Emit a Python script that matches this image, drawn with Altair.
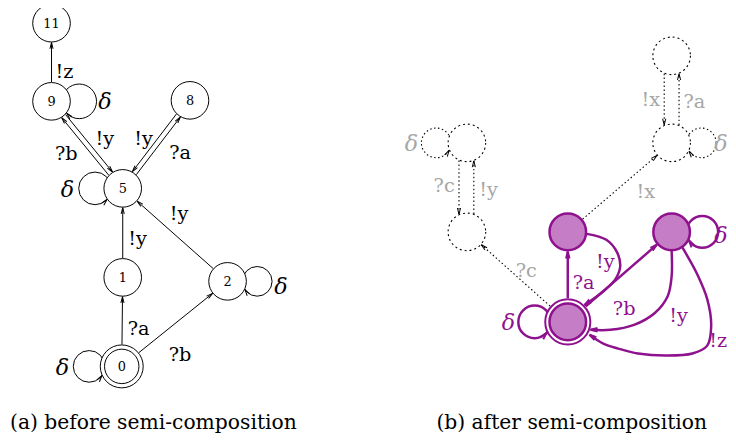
import math
import pandas as pd
import altair as alt

# ---------------- data (pixel space of the 736x443 picture) ----------------
node_id = ["11", "9", "8", "5", "1", "2", "0", "rt", "rm", "lt", "lb", "A", "B", "C"]
node_x = [52, 52, 192, 124, 124, 230, 123, 679, 679, 472, 472, 574, 679, 574]
node_y = [21, 100, 99, 188, 278, 282, 368, 54, 142, 142, 232, 232, 232, 323]
node_text = ["11", "9", "8", "5", "1", "2", "0", "", "", "", "", "", "", ""]
node_style = ["plain"] * 7 + ["dotted"] * 4 + ["purple"] * 3
node_r = [19, 19, 19, 19, 19, 19, 17.4, 19, 19, 19, 19, 18.5, 18.5, 18.5]
accept_ids = ["0", "C"]
accept_r = [21.7, 22.8]

edge_src = ["9", "9", "5", "5", "8", "1", "0", "0", "2", "rt", "rm", "lt", "lb", "A", "C", "C", "C"]
edge_dst = ["11", "5", "9", "8", "5", "5", "1", "2", "5", "rm", "rt", "lb", "lt", "rm", "lb", "A", "B"]
edge_off = [0, -2.5, -2.5, 2.5, 2.5, 0, 0, 0, 0, 7.5, 7.5, 8, 7, 0, 0, 0, 0]

curve_ay_x = [593, 613, 624, 627, 622, 610, 591]
curve_ay_y = [234, 240, 253, 267, 280, 292, 306]
curve_by_x = [679, 679, 675, 662, 641, 617, 597]
curve_by_y = [251, 277, 297, 314, 326, 331, 331]
curve_bz_x = [690, 705, 715, 719, 715, 700, 673, 645, 625, 610, 596]
curve_bz_y = [248, 275, 300, 327, 347, 355, 357, 355, 350, 345, 336]

loop_node = ["9", "5", "2", "0", "rm", "lt", "B", "C"]
loop_side = [1, -1, 1, -1, 1, -1, 1, -1]
loop_r = [17.5, 16.5, 15, 16, 15, 15, 16, 16.5]
loop_d = [28, 28, 30, 33, 30, 31, 31, 33.5]

black_labels = ["!z", "?b", "!y", "!y", "?a", "!y", "!y", "?a", "?b"]
black_lx = [65, 67, 106, 145, 182, 181, 139, 140, 182]
black_ly = [76.5, 159, 144.5, 144.5, 158, 220, 245, 336.5, 363]
black_delta_x = [106, 68, 284, 63]
black_delta_y = [108, 196.5, 295, 376.5]

gray_labels = ["!x", "?a", "?c", "!y", "!x", "?c"]
gray_lx = [658, 702, 449, 494, 653, 532]
gray_ly = [105, 107, 191.5, 195.5, 198, 278]
gray_delta_x = [416, 729]
gray_delta_y = [150, 150]

purple_labels = ["!y", "?a", "?b", "!y", "!z"]
purple_lx = [612, 590, 631, 686, 726]
purple_ly = [268.5, 290, 316.5, 323, 348]
purple_delta_x = [514, 729]
purple_delta_y = [331.5, 243]

captions = ["(a) before semi-composition", "(b) after semi-composition"]
caption_x = [155, 578]
caption_y = [431, 431]

# ---------------- styles ----------------
PURPLE = "#8E118E"
PURPLE_FILL = "#C57EC5"
GRAY = "#A6A6A6"
STROKE_W = {"plain": 1.0, "dotted": 1.0, "purple": 2.5}
FONT = "DejaVu Serif"
ARROW = "M-0.42,1.7L0,0L0.42,1.7"

pos = {n: (x, y) for n, x, y in zip(node_id, node_x, node_y)}
sty = dict(zip(node_id, node_style))
outer = dict(zip(node_id, node_r))
outer.update(dict(zip(accept_ids, accept_r)))


def r_out(n):
    return outer[n] + STROKE_W[sty[n]] / 2


def edge_style(a, b):
    if "dotted" in (sty[a], sty[b]):
        return "dotted"
    if sty[a] == "purple":
        return "purple"
    return "plain"


def angle(dx, dy):
    return math.degrees(math.atan2(dx, -dy)) % 360


edge_rows, arrow_rows = [], []
for s, d, o in zip(edge_src, edge_dst, edge_off):
    (x1, y1), (x2, y2) = pos[s], pos[d]
    L = math.hypot(x2 - x1, y2 - y1)
    ux, uy = (x2 - x1) / L, (y2 - y1) / L
    nx, ny = -uy, ux
    a1 = math.sqrt(r_out(s) ** 2 - o ** 2)
    a2 = math.sqrt(r_out(d) ** 2 - o ** 2)
    st = edge_style(s, d)
    sx, sy = x1 + ux * a1 + nx * o, y1 + uy * a1 + ny * o
    ex, ey = x2 - ux * a2 + nx * o, y2 - uy * a2 + ny * o
    edge_rows.append(dict(x=sx, y=sy, x2=ex, y2=ey, style=st))
    arrow_rows.append(dict(x=ex, y=ey, angle=angle(ux, uy), style=st))

curve_rows = []
for cid, cx, cy in [("ay", curve_ay_x, curve_ay_y), ("by", curve_by_x, curve_by_y), ("bz", curve_bz_x, curve_bz_y)]:
    for i, (xx, yy) in enumerate(zip(cx, cy)):
        curve_rows.append(dict(id=cid, i=i, x=xx, y=yy))
    arrow_rows.append(dict(x=cx[-1], y=cy[-1], angle=angle(cx[-1] - cx[-2], cy[-1] - cy[-2]), style="purple"))

loop_rows = []
for n, side, r, d in zip(loop_node, loop_side, loop_r, loop_d):
    nxp, nyp = pos[n]
    R = r_out(n)
    lx, ly = nxp + side * d, nyp
    loop_rows.append(dict(x=lx, y=ly, size=(2 * r) ** 2, style=sty[n]))
    a = (d ** 2 + R ** 2 - r ** 2) / (2 * d)
    h = math.sqrt(max(R ** 2 - a ** 2, 0))
    px, py = nxp + side * a, nyp + h
    rvx, rvy = px - lx, py - ly
    tx, ty = -rvy, rvx
    if tx * (nxp - px) + ty * (nyp - py) < 0:
        tx, ty = -tx, -ty
    arrow_rows.append(dict(x=px, y=py, angle=angle(tx, ty), style=sty[n]))

node_rows = [dict(x=x, y=y, size=(2 * r) ** 2, style=s, text=t)
             for x, y, r, s, t in zip(node_x, node_y, node_r, node_style, node_text)]
acc_rows = [dict(x=pos[n][0], y=pos[n][1], size=(2 * r) ** 2, style=sty[n]) for n, r in zip(accept_ids, accept_r)]

edges = pd.DataFrame(edge_rows)
arrows = pd.DataFrame(arrow_rows)
curves = pd.DataFrame(curve_rows)
loops = pd.DataFrame(loop_rows)
nodes = pd.DataFrame(node_rows)
accs = pd.DataFrame(acc_rows)

xs = alt.Scale(domain=[8, 736], nice=False, zero=False)
ys = alt.Scale(domain=[8, 436], nice=False, zero=False, reverse=True)
X = alt.X("x:Q", scale=xs, axis=None)
Y = alt.Y("y:Q", scale=ys, axis=None)
X2 = alt.X2("x2:Q")
Y2 = alt.Y2("y2:Q")

STYLE_PROPS = {
    "plain": dict(stroke="black", strokeWidth=1),
    "dotted": dict(stroke="black", strokeWidth=1.1, strokeDash=[1.5, 2.5]),
    "purple": dict(stroke=PURPLE, strokeWidth=2.5),
}
ARROW_PROPS = {
    "plain": dict(stroke="black", strokeWidth=1, size=56),
    "dotted": dict(stroke="black", strokeWidth=1, size=56),
    "purple": dict(stroke=PURPLE, strokeWidth=2, size=70),
}
NODE_FILL = {"plain": "white", "dotted": "white", "purple": PURPLE_FILL}

layers = []
for st in ["plain", "dotted", "purple"]:
    layers.append(alt.Chart(edges[edges["style"] == st]).mark_rule(**STYLE_PROPS[st]).encode(x=X, y=Y, x2=X2, y2=Y2))
layers.append(alt.Chart(curves).mark_line(interpolate="catmull-rom", **STYLE_PROPS["purple"]).encode(
    x=X, y=Y, detail="id:N", order="i:Q"))
for st in ["plain", "dotted", "purple"]:
    sub = loops[loops["style"] == st]
    layers.append(alt.Chart(sub).mark_point(shape="circle", filled=False, opacity=1, **STYLE_PROPS[st]).encode(
        x=X, y=Y, size=alt.Size("size:Q", scale=None)))
for st in ["plain", "purple"]:
    sub = accs[accs["style"] == st]
    props = dict(STYLE_PROPS[st])
    props["strokeWidth"] = 1 if st == "plain" else 2
    layers.append(alt.Chart(sub).mark_point(shape="circle", filled=True, fill="white", fillOpacity=1, opacity=1,
                                            **props).encode(x=X, y=Y, size=alt.Size("size:Q", scale=None)))
for st in ["plain", "dotted", "purple"]:
    sub = nodes[nodes["style"] == st]
    props = dict(STYLE_PROPS[st])
    if st == "dotted":
        props["strokeDash"] = [2, 3]
    layers.append(alt.Chart(sub).mark_point(shape="circle", filled=True, fill=NODE_FILL[st], fillOpacity=1,
                                            opacity=1, **props).encode(x=X, y=Y, size=alt.Size("size:Q", scale=None)))
for st in ["plain", "dotted", "purple"]:
    sub = arrows[arrows["style"] == st]
    layers.append(alt.Chart(sub).mark_point(shape=ARROW, filled=False, opacity=1, **ARROW_PROPS[st]).encode(
        x=X, y=Y, angle=alt.Angle("angle:Q", scale=None)))

# node numbers
num = nodes[nodes["text"] != ""].copy()
num["yb"] = num["y"] + 5
layers.append(alt.Chart(num).mark_text(font=FONT, fontSize=13, baseline="alphabetic", color="black").encode(
    x=X, y=alt.Y("yb:Q", scale=ys, axis=None), text="text:N"))


def text_layer(txt, xx, yy, color, italic=False, size=19.5):
    df = pd.DataFrame({"t": txt, "x": xx, "y": yy})
    kw = dict(font=FONT, fontSize=size, baseline="alphabetic", align="center", color=color)
    if italic:
        kw["fontStyle"] = "italic"
    return alt.Chart(df).mark_text(**kw).encode(x=X, y=Y, text="t:N")


layers.append(text_layer(black_labels, black_lx, black_ly, "black"))
layers.append(text_layer(["δ"] * len(black_delta_x), black_delta_x, black_delta_y, "black", italic=True, size=22.5))
layers.append(text_layer(gray_labels, gray_lx, gray_ly, GRAY))
layers.append(text_layer(["δ"] * len(gray_delta_x), gray_delta_x, gray_delta_y, GRAY, italic=True, size=22.5))
layers.append(text_layer(purple_labels, purple_lx, purple_ly, PURPLE))
layers.append(text_layer(["δ"] * len(purple_delta_x), purple_delta_x, purple_delta_y, PURPLE, italic=True, size=22.5))
layers.append(text_layer(captions, caption_x, caption_y, "black", size=20.5))

chart = alt.layer(*layers).properties(
    width=728, height=428, padding=0, autosize=alt.AutoSizeParams(type="none"),
    background="white"
).configure_view(stroke=None)

chart.save("out.html", embed_options={"renderer": "svg", "actions": False})
